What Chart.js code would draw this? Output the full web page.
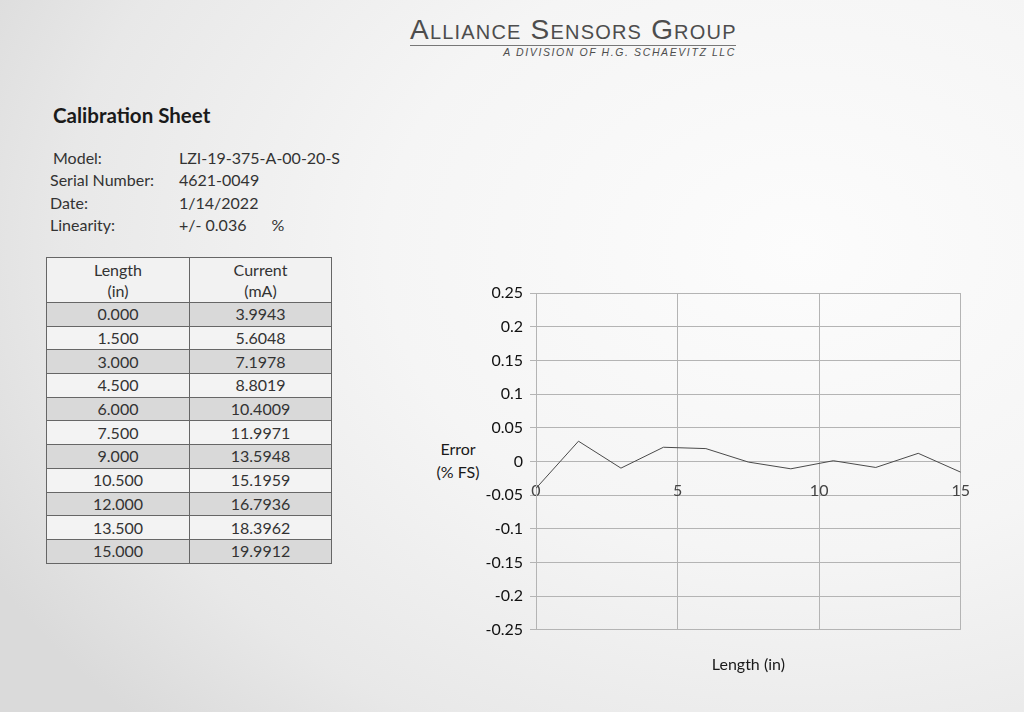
<!DOCTYPE html>
<html lang="en">
<head>
    <meta charset="UTF-8">
    <title>Calibration Sheet</title>
    <script src="https://cdn.jsdelivr.net/npm/chart.js@4.4.1/dist/chart.umd.min.js"></script>
    <style>
        html, body {
            margin: 0;
            width: 1024px;
            height: 712px;
            overflow: hidden;
        }
        body {
            position: relative;
            font-family: Lato, "Open Sans", sans-serif;
            color: #222;
            background: radial-gradient(ellipse 90% 95% at 78% 35%, #fcfcfc 0%, #f5f5f5 45%, #e8e8e8 80%, #dadada 100%);
        }
        #brand {
            position: absolute;
            left: 410px;
            top: 14px;
            width: 326px;
            color: #4d4d4d;
            font-family: "Liberation Sans", sans-serif;
        }
        #brand .name {
            font-size: 28px;
            font-variant: small-caps;
            letter-spacing: 1.2px;
            line-height: 31px;
            white-space: nowrap;
            border-bottom: 1px solid #777;
        }
        #brand .div {
            font-size: 10.5px;
            font-style: italic;
            letter-spacing: 1.6px;
            text-align: right;
            white-space: nowrap;
        }
        #title {
            position: absolute;
            left: 53px;
            top: 103px;
            font-size: 20.5px;
            font-weight: bold;
            color: #1a1a1a;
        }
        #info {
            position: absolute;
            left: 50px;
            top: 147px;
            font-size: 16px;
            line-height: 22.4px;
            color: #333;
        }
        #info div { position: relative; height: 22.4px; }
        #info .v { position: absolute; left: 129px; white-space: nowrap; }
        #calTable {
            position: absolute;
            left: 46px;
            top: 257px;
            width: 286px;
            border-collapse: collapse;
            font-size: 16px;
            color: #333;
        }
        #calTable td, #calTable th {
            border: 1.5px solid #666;
            text-align: center;
            padding: 0;
            height: 22.7px;
            line-height: 20px;
            font-weight: normal;
        }
        #calTable th { height: 44px; line-height: 21px; background: #f2f2f2; }
        #calTable tr.shade td { background: #d9d9d9; }
        #calTable tr.plain td { background: #f3f3f3; }
        #yTitle {
            position: absolute;
            left: 426px;
            top: 437px;
            width: 64px;
            text-align: center;
            font-size: 16px;
            line-height: 23px;
            color: #1a1a1a;
        }
        #chartBox {
            position: absolute;
            left: 420px;
            top: 270px;
            width: 570px;
            height: 410px;
        }
    </style>
</head>
<body>
    <div id="brand">
        <div class="name">Alliance Sensors Group</div>
        <div class="div">A DIVISION OF H.G. SCHAEVITZ LLC</div>
    </div>

    <div id="title">Calibration Sheet</div>

    <div id="info">
        <div style="left:3px">Model:<span class="v" style="left:126px">LZI-19-375-A-00-20-S</span></div>
        <div>Serial Number:<span class="v">4621-0049</span></div>
        <div>Date:<span class="v">1/14/2022</span></div>
        <div>Linearity:<span class="v">+/- 0.036 <span style="margin-left:21px">%</span></span></div>
    </div>

    <table id="calTable">
        <thead>
            <tr><th style="width:142px">Length<br>(in)</th><th>Current<br>(mA)</th></tr>
        </thead>
        <tbody id="calBody"></tbody>
    </table>

    <div id="yTitle">Error<br>(% FS)</div>

    <div id="chartBox">
        <canvas id="errorChart" width="570" height="410"></canvas>
    </div>

    <script>
    // calibration table
    const lengths = ["0.000", "1.500", "3.000", "4.500", "6.000", "7.500", "9.000", "10.500", "12.000", "13.500", "15.000"];
    const currents = ["3.9943", "5.6048", "7.1978", "8.8019", "10.4009", "11.9971", "13.5948", "15.1959", "16.7936", "18.3962", "19.9912"];

    // error plot
    const errorX = [0, 1.5, 3, 4.5, 6, 7.5, 9, 10.5, 12, 13.5, 15];
    const errorY = [-0.040, 0.030, -0.010, 0.021, 0.019, -0.001, -0.011, 0.001, -0.009, 0.012, -0.016];

    const xTicks = [0, 5, 10, 15];

    const body = document.getElementById("calBody");
    lengths.forEach((len, i) => {
        const tr = document.createElement("tr");
        tr.className = i % 2 == 0 ? "shade" : "plain";
        tr.innerHTML = "<td>" + len + "</td><td>" + currents[i] + "</td>";
        body.appendChild(tr);
    });

    const gridCol = "#b4b4b4";
    const ctx = document.getElementById("errorChart").getContext("2d");

    new Chart(ctx, {
        type: "line",
        data: {
            datasets: [{
                data: errorX.map((x, i) => ({x: x, y: errorY[i]})),
                borderColor: "#4a4a4a",
                borderWidth: 1,
                pointRadius: 0,
                tension: 0,
                xAxisID: "x",
                yAxisID: "y"
            }]
        },
        options: {
            responsive: false,
            animation: false,
            layout: { padding: { top: 23, right: 17, bottom: 6, left: 0 } },
            plugins: { legend: { display: false }, tooltip: { enabled: false } },
            scales: {
                x: {
                    type: "linear",
                    position: { y: 0 },
                    min: 0,
                    max: 15,
                    afterBuildTicks: (scale) => { scale.ticks = xTicks.map(v => ({value: v})); },
                    afterFit: (scale) => { scale.height = 0; },
                    grid: { color: gridCol, drawTicks: false },
                    border: { color: gridCol },
                    ticks: {
                        padding: 20,
                        color: "#444",
                        font: { family: "Lato", size: 16 },
                        maxRotation: 0
                    }
                },
                x2: {
                    type: "linear",
                    position: "bottom",
                    min: 0,
                    max: 15,
                    grid: { display: false },
                    border: { display: false },
                    ticks: { display: false },
                    title: {
                        display: true,
                        text: "Length (in)",
                        color: "#1a1a1a",
                        font: { family: "Lato", size: 16 },
                        padding: { top: 17, bottom: 0 }
                    }
                },
                y: {
                    min: -0.25,
                    max: 0.25,
                    afterFit: (scale) => { scale.width = 116; },
                    grid: { color: gridCol, tickLength: 6 },
                    border: { color: gridCol },
                    ticks: {
                        stepSize: 0.05,
                        padding: 7,
                        color: "#111",
                        font: { family: "Lato", size: 16 },
                        callback: (v) => Number(v.toFixed(2)).toString()
                    }
                }
            }
        }
    });
    </script>
</body>
</html>
